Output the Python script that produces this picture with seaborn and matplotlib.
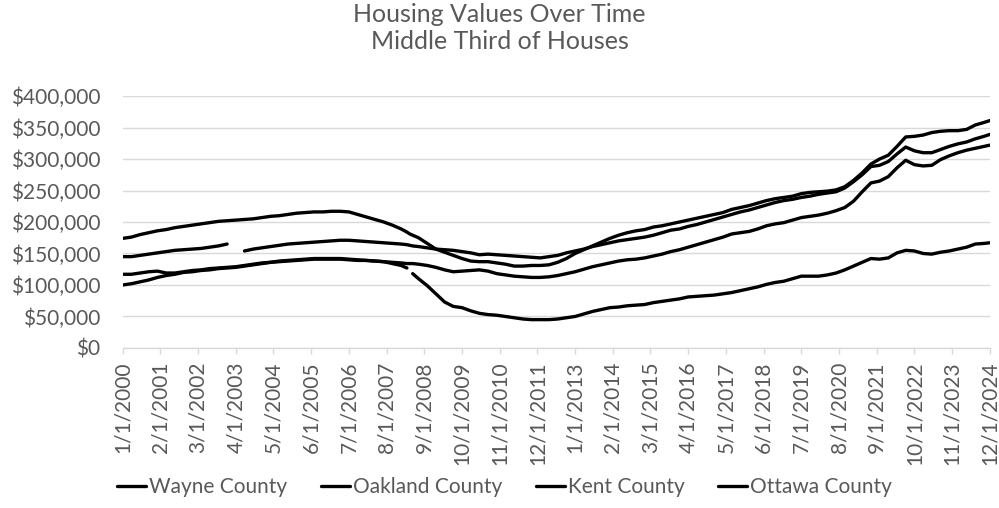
import matplotlib
matplotlib.use("Agg")
import matplotlib.pyplot as plt
from matplotlib.lines import Line2D
from matplotlib.ticker import FuncFormatter
import seaborn as sns
import pandas as pd
import numpy as np

# sample dates (quarterly, plus a few extra around the gaps)
sample_dates = [
    "2000-01", "2000-04", "2000-07", "2000-10", "2001-01", "2001-04", "2001-07", "2001-10",
    "2002-01", "2002-04", "2002-07", "2002-10", "2003-01", "2003-04", "2003-07", "2003-10",
    "2004-01", "2004-04", "2004-07", "2004-10", "2005-01", "2005-04", "2005-07", "2005-10",
    "2006-01", "2006-04", "2006-07", "2006-10", "2007-01", "2007-04", "2007-07", "2007-10",
    "2008-01", "2008-03", "2008-04", "2008-05", "2008-07", "2008-10",
    "2009-01", "2009-04", "2009-07", "2009-10", "2010-01", "2010-04", "2010-07", "2010-10",
    "2011-01", "2011-04", "2011-07", "2011-10", "2012-01", "2012-04", "2012-07", "2012-10",
    "2013-01", "2013-04", "2013-07", "2013-10", "2014-01", "2014-04", "2014-07", "2014-10",
    "2015-01", "2015-04", "2015-07", "2015-10", "2016-01", "2016-04", "2016-07", "2016-10",
    "2017-01", "2017-04", "2017-07", "2017-10", "2018-01", "2018-04", "2018-07", "2018-10",
    "2019-01", "2019-04", "2019-07", "2019-10", "2020-01", "2020-04", "2020-07", "2020-10",
    "2021-01", "2021-04", "2021-07", "2021-10", "2022-01", "2022-04", "2022-07", "2022-10",
    "2023-01", "2023-04", "2023-07", "2023-10", "2024-01", "2024-04", "2024-07", "2024-10",
    "2024-12",
]

# values in $1,000
wayne = [
    100, 102, 105, 108, 112, 115, 117, 120, 121, 123, 124, 126, 127, 128, 130, 132,
    134, 136, 137, 138, 139, 140, 141, 141, 141, 141, 140, 139, 139, 138, 137, 134,
    131, 127, np.nan, 118, 110, 99,
    86, 73, 66, 64, 59, 55, 53, 52, 50, 48, 46, 45, 45, 45, 46, 48,
    50, 54, 58, 61, 64, 65, 67, 68, 69, 72, 74, 76, 78, 81, 82, 83,
    84, 86, 88, 91, 94, 97, 101, 104, 106, 110, 114, 114, 114, 116, 119, 124,
    130, 136, 142, 141, 143, 151, 155, 154, 150, 149, 152, 154, 157, 160, 165, 166,
    167,
]
oakland = [
    174, 176, 180, 183, 186, 188, 191, 193, 195, 197, 199, 201, 202, 203, 204, 205,
    207, 209, 210, 212, 214, 215, 216, 216, 217, 217, 216, 212, 208, 204, 200, 195,
    189, 184, 181, 179, 175, 166,
    157, 152, 147, 142, 138, 137, 137, 135, 133, 130, 130, 131, 131, 132, 136, 142,
    150, 156, 162, 168, 174, 179, 183, 186, 188, 192, 194, 197, 200, 203, 206, 209,
    212, 215, 220, 223, 226, 230, 234, 237, 239, 241, 245, 247, 248, 249, 251, 256,
    266, 278, 292, 300, 306, 320, 335, 336, 338, 342, 344, 345, 345, 347, 354, 358,
    361,
]
kent = [
    117, 117, 119, 121, 122, 119, 119, 121, 123, 124, 126, 127, 128, 129, 131, 133,
    135, 136, 138, 139, 140, 141, 142, 142, 142, 142, 141, 140, 139, 138, 137, 136,
    135, 134, 134, 134, 133, 131,
    128, 124, 121, 122, 123, 124, 122, 118, 116, 114, 113, 112, 112, 113, 115, 118,
    121, 125, 129, 132, 135, 138, 140, 141, 143, 146, 149, 153, 156, 160, 164, 168,
    172, 176, 181, 183, 185, 189, 194, 197, 199, 203, 207, 209, 211, 214, 218, 223,
    233, 248, 262, 265, 272, 286, 298, 291, 289, 290, 299, 305, 310, 314, 317, 320,
    322,
]
ottawa = [
    145, 145, 147, 149, 151, 153, 155, 156, 157, 158, 160, 162, 165, np.nan, 154, 157,
    159, 161, 163, 165, 166, 167, 168, 169, 170, 171, 171, 170, 169, 168, 167, 166,
    165, 164, 163, 162, 161, 159,
    157, 156, 155, 153, 151, 148, 149, 148, 147, 146, 145, 144, 143, 145, 147, 151,
    154, 157, 161, 164, 167, 170, 172, 174, 176, 179, 183, 187, 189, 193, 196, 200,
    204, 208, 212, 216, 219, 223, 227, 231, 234, 236, 239, 241, 244, 246, 248, 254,
    264, 275, 288, 290, 296, 308, 319, 313, 310, 310, 315, 320, 324, 327, 332, 336,
    339,
]

counties = ["Wayne County", "Oakland County", "Kent County", "Ottawa County"]

tick_labels = [
    "1/1/2000", "2/1/2001", "3/1/2002", "4/1/2003", "5/1/2004", "6/1/2005",
    "7/1/2006", "8/1/2007", "9/1/2008", "10/1/2009", "11/1/2010", "12/1/2011",
    "1/1/2013", "2/1/2014", "3/1/2015", "4/1/2016", "5/1/2017", "6/1/2018",
    "7/1/2019", "8/1/2020", "9/1/2021", "10/1/2022", "11/1/2023", "12/1/2024",
]

# monthly category axis
months = pd.date_range("2000-01-01", "2024-12-01", freq="MS")
pos = {d: i for i, d in enumerate(months.strftime("%Y-%m"))}

df = pd.DataFrame({"date": sample_dates, "Wayne County": wayne, "Oakland County": oakland,
                   "Kent County": kent, "Ottawa County": ottawa})
df = df.melt(id_vars="date", var_name="county", value_name="value")
df["value"] = df["value"] * 1000
df["x"] = df["date"].map(pos)
df = df.sort_values(["county", "x"])
df["seg"] = df.groupby("county")["value"].transform(lambda s: s.isna().cumsum())
df = df.dropna()

sns.set_theme(style="white")
plt.rcParams["font.family"] = ["Lato", "DejaVu Sans"]
grey = "#595959"
light = "#d9d9d9"

fig = plt.figure(figsize=(9.99, 5.08), dpi=100)
ax = fig.add_axes([0.1228, 0.315, 0.868, 0.496])

sns.lineplot(data=df, x="x", y="value", hue="county", hue_order=counties, units="seg",
             estimator=None, palette=["black"] * 4, linewidth=2.4, legend=False,
             solid_capstyle="round", ax=ax)

ax.set_xlim(0, len(months) - 1)
ax.set_ylim(0, 400000)
ax.set_yticks(np.arange(0, 400001, 50000))
ax.yaxis.set_major_formatter(FuncFormatter(lambda v, p: f"${v:,.0f}"))
ax.grid(axis="y", color=light, linewidth=1)
ax.set_axisbelow(True)

tick_pos = [pos[d] for d in pd.to_datetime(tick_labels, format="%m/%d/%Y").strftime("%Y-%m")]
ax.set_xticks(tick_pos)
ax.set_xticklabels(tick_labels, rotation=90)

for s in ["top", "right", "left"]:
    ax.spines[s].set_visible(False)
ax.spines["bottom"].set_color(light)
ax.spines["bottom"].set_linewidth(1)

ax.tick_params(axis="y", length=0, pad=16, labelsize=15, labelcolor=grey)
ax.tick_params(axis="x", length=4.5, width=1, color=light, pad=5, labelsize=15,
               labelcolor=grey, bottom=True)
ax.set_xlabel("")
ax.set_ylabel("")

fig.text(0.5, 1 - 3 / 508, "Housing Values Over Time\nMiddle Third of Houses",
         ha="center", va="top", fontsize=18, color=grey, linespacing=1.2)

handles = [Line2D([], [], color="black", linewidth=2.4) for _ in counties]
fig.legend(handles, counties, loc="center", bbox_to_anchor=(0.505, 1 - 487 / 508), ncol=4,
           frameon=False, fontsize=15, labelcolor=grey, handlelength=1.4,
           handletextpad=0.15, columnspacing=1.6)

fig.savefig("out.png", dpi=100)
